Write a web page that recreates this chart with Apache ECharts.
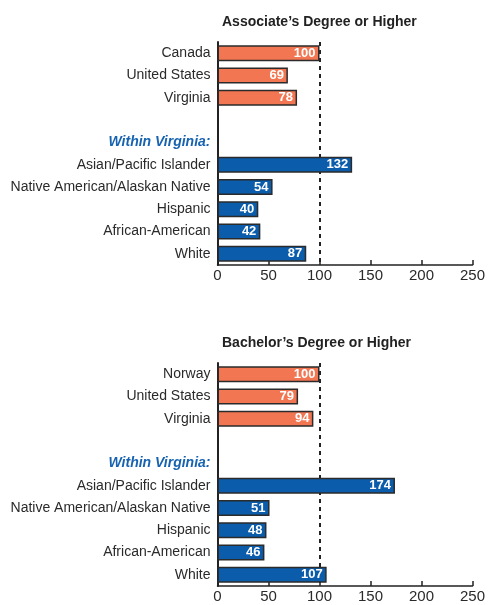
<!DOCTYPE html>
<html>
<head>
<meta charset="utf-8">
<script src="https://cdn.jsdelivr.net/npm/echarts@6/dist/echarts.min.js"></script>
<style>
html,body{margin:0;padding:0;background:#fff;}
#c{width:494px;height:605px;}
</style>
</head>
<body>
<div id="c"></div>
<script>
// ---- data ----
const titles = ["Associate\u2019s Degree or Higher", "Bachelor\u2019s Degree or Higher"];
const categoriesA = ["Canada", "United States", "Virginia", "", "Within Virginia:", "Asian/Pacific Islander", "Native American/Alaskan Native", "Hispanic", "African-American", "White"];
const categoriesB = ["Norway", "United States", "Virginia", "", "Within Virginia:", "Asian/Pacific Islander", "Native American/Alaskan Native", "Hispanic", "African-American", "White"];
const valuesA = [100, 69, 78, null, null, 132, 54, 40, 42, 87];
const valuesB = [100, 79, 94, null, null, 174, 51, 48, 46, 107];
const xTicks = [0, 50, 100, 150, 200, 250];
const referenceValue = 100;

const FONT = "'Liberation Sans Narrow','Arial Narrow','Liberation Sans',Arial,sans-serif";
const ORANGE = '#f37652';
const BLUE = '#0b5cab';
const groupHeader = "Within Virginia:";

function barData(vals) {
  return vals.map((v, i) => ({
    value: v,
    itemStyle: { color: i < 3 ? ORANGE : BLUE }
  }));
}

const gridTops = [42, 363];
const grids = gridTops.map(t => ({ left: 217.5, width: 255, top: t, height: 223, containLabel: false, outerBoundsMode: 'none' }));

const xAxes = [0, 1].map(i => ({
  type: 'value', gridIndex: i, min: xTicks[0], max: xTicks[xTicks.length - 1], interval: 50,
  axisLine: { show: true, lineStyle: { color: '#222', width: 1.5 } },
  axisTick: { show: true, inside: true, length: 5, lineStyle: { color: '#222', width: 1.5 } },
  splitLine: { show: false },
  axisLabel: { color: '#2a2a2a', fontFamily: FONT, fontSize: 15, margin: 3 }
}));

const yAxes = [categoriesA, categoriesB].map((cats, i) => ({
  type: 'category', gridIndex: i, data: cats, inverse: true,
  axisLine: { show: true, lineStyle: { color: '#222', width: 2 } },
  axisTick: { show: false },
  axisLabel: {
    color: '#2a2a2a', fontFamily: FONT, fontSize: 14, margin: 7, interval: 0,
    formatter: v => v === groupHeader ? '{w|' + v + '}' : v,
    rich: { w: { color: '#1763b0', fontStyle: 'italic', fontWeight: 'bold', fontFamily: FONT, fontSize: 14 } }
  }
}));

const series = [valuesA, valuesB].map((vals, i) => ({
  type: 'bar', xAxisIndex: i, yAxisIndex: i, data: barData(vals), barWidth: 16,
  itemStyle: { borderColor: '#2b2b2b', borderWidth: 1.5 },
  label: { show: true, position: 'insideRight', distance: 4, color: '#fff', fontWeight: 'bold', fontFamily: FONT, fontSize: 13 },
  markLine: {
    z: 1, silent: true, symbol: ['none', 'none'], label: { show: false },
    lineStyle: { color: '#222', type: [4, 4], width: 2 },
    data: [{ xAxis: referenceValue }]
  }
}));

const chart = echarts.init(document.getElementById('c'), null, { renderer: 'canvas' });
chart.setOption({
  animation: false,
  backgroundColor: '#fff',
  title: titles.map((t, i) => ({
    text: t, left: 217, top: i === 0 ? 10 : 331,
    textStyle: { fontFamily: FONT, fontWeight: 'bold', fontSize: 14, color: '#222' }
  })),
  grid: grids,
  xAxis: xAxes,
  yAxis: yAxes,
  series: series
});
</script>
</body>
</html>
